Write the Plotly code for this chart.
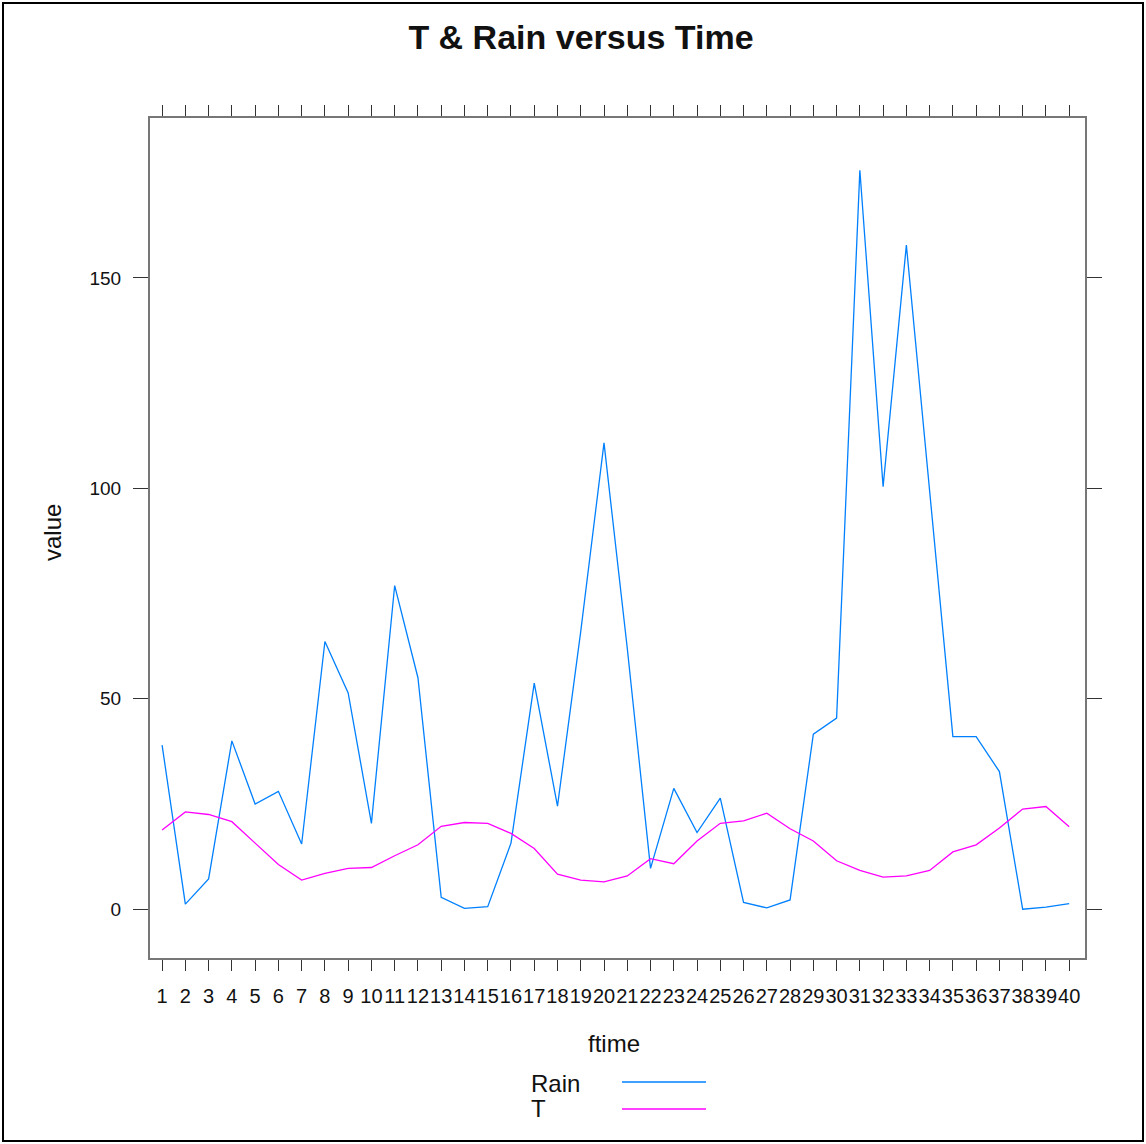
import plotly.graph_objects as go

ftime = [1, 2, 3, 4, 5, 6, 7, 8, 9, 10, 11, 12, 13, 14, 15, 16, 17, 18, 19, 20,
         21, 22, 23, 24, 25, 26, 27, 28, 29, 30, 31, 32, 33, 34, 35, 36, 37, 38, 39, 40]
tick_labels = [str(v) for v in ftime]

rain = [39, 1.2, 7.2, 40, 25, 28, 15.5, 63.6, 51.4, 20.4,
        76.9, 55, 2.8, 0.2, 0.6, 15.7, 53.7, 24.5, 66, 110.8,
        62, 9.7, 28.7, 18.2, 26.4, 1.6, 0.3, 2.2, 41.6, 45.4,
        175.6, 100.4, 157.8, 99, 41, 41, 32.7, 0, 0.5, 1.3]
temp = [18.8, 23.1, 22.5, 20.8, 15.7, 10.6, 6.9, 8.5, 9.7, 9.9,
        12.7, 15.3, 19.7, 20.6, 20.4, 18, 14.4, 8.3, 6.9, 6.5,
        7.9, 12, 10.8, 16.2, 20.4, 21, 22.8, 19.1, 16.2, 11.5,
        9.2, 7.6, 7.9, 9.2, 13.6, 15.3, 19.3, 23.8, 24.4, 19.6]
y_ticks = [0, 50, 100, 150]

RAIN_COL = "#0080ff"
T_COL = "#ff00ff"
FONT = "Liberation Sans, Arial, sans-serif"

W, H = 1146, 1144
L, R, T, B = 150, 1085, 118, 958

fig = go.Figure()
fig.add_trace(go.Scatter(x=ftime, y=rain, mode="lines", name="Rain",
                         line=dict(color=RAIN_COL, width=1.3)))
fig.add_trace(go.Scatter(x=ftime, y=temp, mode="lines", name="T",
                         line=dict(color=T_COL, width=1.3)))

def px_x(p):
    return (p - L) / (R - L)

def px_y(p):
    return (B - p) / (B - T)

axis_common = dict(showgrid=False, zeroline=False, showline=True, linecolor="#777",
                   linewidth=2, mirror="ticks", ticks="outside", tickcolor="#333",
                   tickwidth=1.2)

fig.update_xaxes(range=[0.48, 40.68], tickvals=ftime, ticktext=tick_labels,
                 ticklen=11, ticklabelstandoff=8, tickangle=0,
                 tickfont=dict(family=FONT, size=20, color="#111"), **axis_common)
fig.update_yaxes(range=[-11.6, 188], tickvals=y_ticks, ticklen=15,
                 ticklabelstandoff=8,
                 tickfont=dict(family=FONT, size=19, color="#111"), **axis_common)

annotations = [
    dict(text="value", x=px_x(52), y=px_y(533), xref="paper", yref="paper",
         showarrow=False, textangle=-90, font=dict(family=FONT, size=24, color="#111"),
         xanchor="center", yanchor="middle"),
    dict(text="ftime", x=px_x(614), y=px_y(1043), xref="paper", yref="paper",
         showarrow=False, font=dict(family=FONT, size=24, color="#111"),
         xanchor="center", yanchor="middle"),
    dict(text="Rain", x=px_x(529), y=px_y(1083), xref="paper", yref="paper",
         showarrow=False, font=dict(family=FONT, size=24, color="#111"),
         xanchor="left", yanchor="middle"),
    dict(text="T", x=px_x(529), y=px_y(1108), xref="paper", yref="paper",
         showarrow=False, font=dict(family=FONT, size=24, color="#111"),
         xanchor="left", yanchor="middle"),
]

shapes = [
    dict(type="line", xref="paper", yref="paper", x0=px_x(622), x1=px_x(706),
         y0=px_y(1082), y1=px_y(1082), line=dict(color=RAIN_COL, width=1.5)),
    dict(type="line", xref="paper", yref="paper", x0=px_x(622), x1=px_x(706),
         y0=px_y(1109), y1=px_y(1109), line=dict(color=T_COL, width=1.5)),
    dict(type="rect", xref="paper", yref="paper", x0=px_x(3), x1=px_x(1143),
         y0=px_y(1141), y1=px_y(3), line=dict(color="#000", width=2)),
]

fig.update_layout(
    width=W, height=H,
    margin=dict(l=L, r=W - R, t=T, b=H - B),
    paper_bgcolor="white", plot_bgcolor="white",
    showlegend=False,
    title=dict(text="<b>T &amp; Rain versus Time</b>", x=581 / W, xanchor="center",
               y=1 - 37 / H, yanchor="middle", xref="container", yref="container",
               font=dict(family=FONT, size=34, color="#111")),
    annotations=annotations,
    shapes=shapes,
)

fig.write_html("out.html", config={"displayModeBar": False},
               post_script="document.body.style.margin='0px';document.body.style.overflow='hidden';")
